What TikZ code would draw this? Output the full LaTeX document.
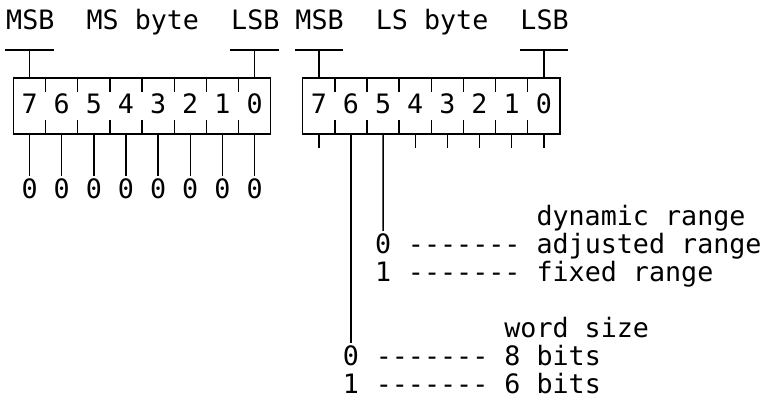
\documentclass[tikz,border=0pt]{standalone}
\usepackage{fontspec}
\setmonofont{DejaVu Sans Mono}
\usetikzlibrary{matrix,positioning}
\tikzset{
bitreg/.style={
  matrix of nodes,
  anchor=north west,
  inner sep=0pt,
  outer sep=0pt,
  column sep=0pt,
  nodes={minimum width=16.07pt, minimum height=28pt, inner sep=0pt,
    outer sep=0pt, text height=9.8pt, text depth=2.5pt}
  },
lbl/.style={inner sep=0pt, anchor=base west},
val/.style={inner sep=1pt, anchor=base}
}

\begin{document}
\begin{tikzpicture}[x=0.5pt,y=-0.5pt,line width=0.7pt,
  font=\ttfamily\fontsize{13.35pt}{16pt}\selectfont]
\useasboundingbox (0,0) rectangle (760,397);

% header line
\node[lbl] (hmsb1) at (5.5,29.3) {MSB};
\node[lbl] (hms) at (85.85,29.3) {MS byte};
\node[lbl] (hlsb1) at (230.48,29.3) {LSB};
\node[lbl] (hmsb2) at (294.76,29.3) {MSB};
\node[lbl] (hls) at (375.11,29.3) {LS byte};
\node[lbl] (hlsb2) at (519.74,29.3) {LSB};

% the two bytes
\matrix[bitreg] at (13.5,78) (msb)
{ 7 & 6 & 5 & 4 & 3 & 2 & 1 & 0 \\ };
\matrix[bitreg] at (302.76,78) (lsb)
{ 7 & 6 & 5 & 4 & 3 & 2 & 1 & 0 \\ };

\draw (msb.north west) rectangle (msb.south east);
\draw (lsb.north west) rectangle (lsb.south east);

\foreach \i in {1,...,7}{
  \draw (msb-1-\i.north east) -- ++(0,14);
  \draw (msb-1-\i.south east) -- ++(0,-14);
  \draw (lsb-1-\i.north east) -- ++(0,14);
  \draw (lsb-1-\i.south east) -- ++(0,-14);
}

% MSB / LSB markers
\foreach \c in {msb-1-1,msb-1-8,lsb-1-1,lsb-1-8}
  \draw (\c.north) -- ++(0,-28) ++(-24.1,0) -- ++(48.2,0);

% MS byte: all zero
\foreach \i in {1,...,8}{
  \node[val,below=20.9pt of msb-1-\i,anchor=north] (mv-\i) {0};
  \draw (msb-1-\i) -- (mv-\i);
}

% LS byte: unused bits
\foreach \i in {1,4,5,6,7,8}
  \draw (lsb-1-\i.south) -- ++(0,14);

% bit 5
\node[lbl] (drtitle) at (535.81,225.3) {dynamic range};
\node[val] (dr0) at (383.11,253.3) {0};
\node[lbl] (dradj) at (407.25,253.3) {-{}-{}-{}-{}-{}-{}- adjusted range};
\node[val] (dr1) at (383.11,281.3) {1};
\node[lbl] (drfix) at (407.25,281.3) {-{}-{}-{}-{}-{}-{}- fixed range};
\draw (lsb-1-3) -- (dr0);

% bit 6
\node[lbl] (wstitle) at (503.67,337.3) {word size};
\node[val] (ws0) at (350.97,365.3) {0};
\node[lbl] (ws8) at (375.11,365.3) {-{}-{}-{}-{}-{}-{}- 8 bits};
\node[val] (ws1) at (350.97,393.3) {1};
\node[lbl] (ws6) at (375.11,393.3) {-{}-{}-{}-{}-{}-{}- 6 bits};
\draw (lsb-1-2) -- (ws0);
\end{tikzpicture}
\end{document}
